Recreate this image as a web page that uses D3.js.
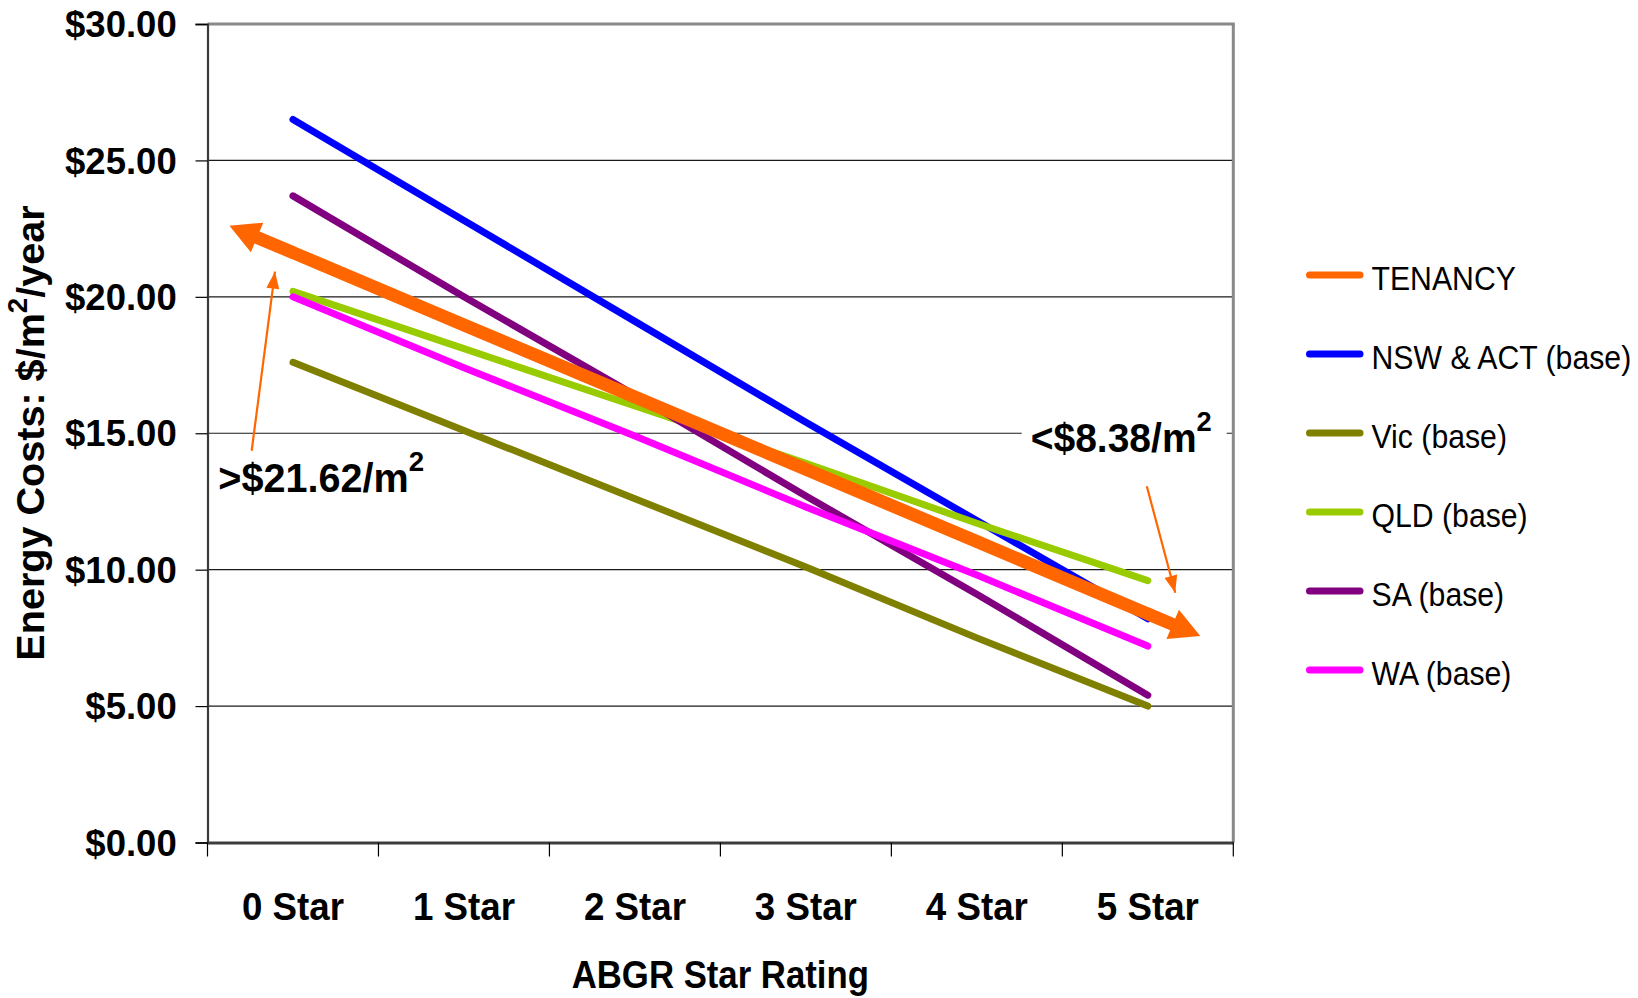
<!DOCTYPE html>
<html>
<head>
<meta charset="utf-8">
<script src="https://cdn.jsdelivr.net/npm/d3@7"></script>
<style>
  html, body { margin: 0; padding: 0; background: #fff; }
  svg { display: block; }
  text { font-family: "Liberation Sans", Arial, sans-serif; fill: #000; }
</style>
</head>
<body>
<svg id="chart" width="1638" height="998"></svg>
<script>
// ---- data ----
const categories = ["0 Star", "1 Star", "2 Star", "3 Star", "4 Star", "5 Star"];
const yTickValues = [0, 5, 10, 15, 20, 25, 30];

const seriesNames  = ["TENANCY", "NSW & ACT (base)", "Vic (base)", "QLD (base)", "SA (base)", "WA (base)"];
const seriesColors = ["#FF6600", "#0000FF", "#808000", "#99CC00", "#800080", "#FF00FF"];

const tenancy = [21.62, 18.97, 16.33, 13.68, 11.03, 8.38];
const nswAct  = [26.5, 22.8, 19.1, 15.4, 11.8, 8.2];
const vic     = [17.6, 15.1, 12.6, 10.1, 7.5, 5.0];
const qld     = [20.2, 18.1, 16.0, 13.9, 11.7, 9.6];
const sa      = [23.7, 20.0, 16.4, 12.7, 9.1, 5.4];
const wa      = [20.0, 17.4, 14.9, 12.3, 9.8, 7.2];

const tenancyLowLabel  = ">$21.62/m";
const tenancyHighLabel = "<$8.38/m";

// ---- layout ----
const svg = d3.select("#chart");
const W = 1638, H = 998;
const plot = { left: 207.5, right: 1233.3, top: 24, bottom: 842.5 };

svg.append("rect").attr("width", W).attr("height", H).attr("fill", "#fff");

const x = d3.scaleBand().domain(categories).range([plot.left, plot.right]).padding(0);
const y = d3.scaleLinear().domain([0, 30]).range([plot.bottom, plot.top]);
const xc = c => x(c) + x.bandwidth() / 2;

// text with a horizontal squeeze factor and optional superscript parts
function addText(g, px, py, parts, o) {
  const rise = (o.supRise || 0.52) * o.size;
  const t = g.append("text")
    .attr("transform", `translate(${px},${py}) scale(${o.sx || 1},1)` + (o.rotate ? ` rotate(${o.rotate})` : ""))
    .attr("text-anchor", o.anchor || "start")
    .style("font-size", o.size + "px")
    .style("font-weight", o.weight || "normal");
  parts.forEach(p => {
    const ts = t.append("tspan").text(p.text);
    if (p.sup) {
      ts.style("font-size", (o.size * 0.7) + "px").attr("dy", -rise);
    } else if (p.after) {
      ts.attr("dy", rise);
    }
  });
  return t;
}

// ---- grid lines ----
const grid = svg.append("g");
grid.selectAll("line.grid")
  .data(yTickValues.filter(v => v > 0 && v < 30))
  .join("line")
  .attr("x1", plot.left).attr("x2", plot.right)
  .attr("y1", d => y(d)).attr("y2", d => y(d))
  .attr("stroke", "#1a1a1a").attr("stroke-width", 1.2);

// plot frame: top and right in grey
grid.append("line").attr("x1", plot.left).attr("x2", plot.right + 1.5)
  .attr("y1", y(30)).attr("y2", y(30)).attr("stroke", "#8a8a8a").attr("stroke-width", 3);
grid.append("line").attr("x1", plot.right).attr("x2", plot.right)
  .attr("y1", y(30)).attr("y2", y(0)).attr("stroke", "#8a8a8a").attr("stroke-width", 3);

// ---- y axis ----
const yAxis = svg.append("g").attr("transform", `translate(${plot.left},0)`)
  .call(d3.axisLeft(y).tickValues(yTickValues).tickSize(12).tickFormat(""));
yAxis.select(".domain").attr("stroke", "#3a3a3a").attr("stroke-width", 2.2);
yAxis.selectAll(".tick line").attr("stroke", "#000").attr("stroke-width", 1.2);

const yFmt = d3.format("$.2f");
yTickValues.forEach(v => {
  addText(svg, 176.7, y(v) + 13.2, [{ text: yFmt(v) }], { size: 36.5, weight: "bold", anchor: "end" });
});

// ---- x axis ----
const xAxis = svg.append("g").attr("transform", `translate(0,${plot.bottom})`)
  .call(d3.axisBottom(x).tickSize(0).tickFormat(""));
xAxis.select(".domain").attr("stroke", "#3c3c3c").attr("stroke-width", 3);
const boundaries = categories.map(c => x(c)).concat([plot.right]);
xAxis.selectAll("line.bnd").data(boundaries).join("line")
  .attr("class", "bnd")
  .attr("x1", d => d).attr("x2", d => d)
  .attr("y1", 0).attr("y2", 14)
  .attr("stroke", "#000").attr("stroke-width", 1.2);

categories.forEach(c => {
  addText(svg, xc(c), 920, [{ text: c }], { size: 39.5, weight: "bold", anchor: "middle", sx: 0.93 });
});

// axis titles
addText(svg, 720.3, 988, [{ text: "ABGR Star Rating" }], { size: 38.6, weight: "bold", anchor: "middle", sx: 0.9 });
addText(svg, 44, 433, [{ text: "Energy Costs: $/m" }, { text: "2", sup: true }, { text: "/year", after: true }],
  { size: 39.6, weight: "bold", anchor: "middle", rotate: -90, supRise: 0.44 });

// ---- series lines ----
const line = d3.line().x((d, i) => xc(categories[i])).y(d => y(d));
const baseSeries = [
  { values: nswAct, color: seriesColors[1] },
  { values: vic,    color: seriesColors[2] },
  { values: qld,    color: seriesColors[3] },
  { values: sa,     color: seriesColors[4] },
  { values: wa,     color: seriesColors[5] }
];
svg.append("g").selectAll("path").data(baseSeries).join("path")
  .attr("d", d => line(d.values))
  .attr("fill", "none")
  .attr("stroke", d => d.color)
  .attr("stroke-width", 7)
  .attr("stroke-linecap", "round")
  .attr("stroke-linejoin", "round");

// ---- tenancy arrow (double headed) ----
const defs = svg.append("defs");
const shaftW = 13;
function arrowMarker(id, shaft, orient) {
  const m = defs.append("marker")
    .attr("id", id)
    .attr("markerUnits", "userSpaceOnUse")
    .attr("orient", orient)
    .attr("refX", 0).attr("refY", 0)
    .attr("markerWidth", 200).attr("markerHeight", 200)
    .attr("viewBox", "-100 -100 200 200")
    .style("overflow", "visible");
  m.append("path")
    .attr("d", `M-1,${-shaftW / 2} L${shaft},${-shaftW / 2} L${shaft},-16 L${shaft + 30},0 L${shaft},16 L${shaft},${shaftW / 2} L-1,${shaftW / 2} Z`)
    .attr("fill", seriesColors[0]);
}
arrowMarker("tenancy-start", 39, "auto-start-reverse");
arrowMarker("tenancy-end", 27, "auto");

svg.append("path")
  .attr("d", line(tenancy))
  .attr("fill", "none")
  .attr("stroke", seriesColors[0])
  .attr("stroke-width", shaftW)
  .attr("marker-start", "url(#tenancy-start)")
  .attr("marker-end", "url(#tenancy-end)");

// ---- callout labels with thin pointer arrows ----
defs.append("marker")
  .attr("id", "pointer")
  .attr("markerUnits", "userSpaceOnUse")
  .attr("orient", "auto")
  .attr("refX", 17).attr("refY", 0)
  .attr("markerWidth", 40).attr("markerHeight", 40)
  .attr("viewBox", "-20 -20 40 40")
  .append("path").attr("d", "M0,-6.5 L17,0 L0,6.5 Z").attr("fill", seriesColors[0]);

const first = categories[0], last = categories[categories.length - 1];
const lowTip  = [xc(first) - 18, y(tenancy[0]) + 19];
const lowTail = [xc(first) - 41.3, y(15) + 17.5];
const highTip  = [xc(last) + 27.4, y(tenancy[tenancy.length - 1]) - 21.2];
const highTail = [xc(last) - 1, y(15) + 53];

[[lowTail, lowTip], [highTail, highTip]].forEach(([a, b]) => {
  svg.append("line")
    .attr("x1", a[0]).attr("y1", a[1]).attr("x2", b[0]).attr("y2", b[1])
    .attr("stroke", seriesColors[0]).attr("stroke-width", 2.2)
    .attr("marker-end", "url(#pointer)");
});

// high-value label sits on a white box over the grid line
svg.append("rect")
  .attr("x", 1021.7).attr("y", y(15) - 27).attr("width", 205).attr("height", 54)
  .attr("fill", "#fff");
addText(svg, 1030.7, y(15) + 19, [{ text: tenancyHighLabel }, { text: "2", sup: true }],
  { size: 40, weight: "bold", sx: 0.975 });
addText(svg, 218.3, y(15) + 58.4, [{ text: tenancyLowLabel }, { text: "2", sup: true }],
  { size: 40, weight: "bold", sx: 0.99 });

// ---- legend ----
const legend = svg.append("g");
const legendTop = 275, legendStep = 79;
seriesNames.forEach((name, i) => {
  const ly = legendTop + i * legendStep;
  legend.append("line")
    .attr("x1", 1309.5).attr("x2", 1360).attr("y1", ly).attr("y2", ly)
    .attr("stroke", seriesColors[i]).attr("stroke-width", 7).attr("stroke-linecap", "round");
  addText(legend, 1371.5, ly + 15, [{ text: name }], { size: 32.5, sx: 0.93 });
});
</script>
</body>
</html>
